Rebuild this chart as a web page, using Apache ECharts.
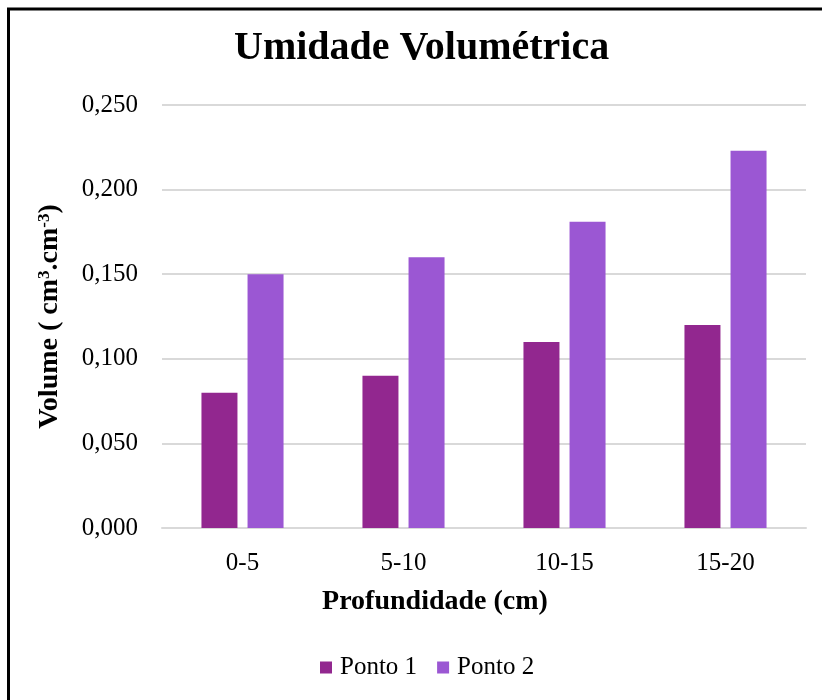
<!DOCTYPE html>
<html><head><meta charset="utf-8">
<script src="https://cdn.jsdelivr.net/npm/echarts@6/dist/echarts.min.js"></script>
<style>html,body{margin:0;padding:0;background:#fff}#c{width:822px;height:700px}</style>
</head><body><div id="c"></div>
<script>
const categories = ['0-5', '5-10', '10-15', '15-20'];
const ponto1 = [0.080, 0.090, 0.110, 0.120];
const ponto2 = [0.150, 0.160, 0.181, 0.223];
const seriesNames = ['Ponto 1', 'Ponto 2'];
const yTicks = [0, 0.05, 0.10, 0.15, 0.20, 0.25];

const FONT = '"Liberation Serif", "DejaVu Serif", serif';
const chart = echarts.init(document.getElementById('c'), null, {renderer: 'canvas'});
chart.setOption({
  backgroundColor: '#fff',
  animation: false,
  title: {
    text: 'Umidade Volumétrica',
    left: 234, top: 29, padding: 0,
    textStyle: {fontFamily: FONT, fontWeight: 'bold', fontSize: 40, color: '#000'}
  },
  graphic: [{
    type: 'rect', silent: true, z: 100,
    shape: {x: 8.5, y: 9, width: 900, height: 800},
    style: {fill: 'none', stroke: '#000', lineWidth: 3}
  }],
  legend: {
    data: seriesNames,
    top: 650, left: 315,
    itemWidth: 12, itemHeight: 12, itemGap: 20,
    icon: 'rect',
    textStyle: {fontFamily: FONT, fontSize: 25, color: '#000', padding: [0,0,0,3]}
  },
  grid: {left: 162, right: 16, top: 105, bottom: 172, containLabel: false},
  xAxis: {
    type: 'category', data: categories,
    name: 'Profundidade (cm)', nameLocation: 'middle', nameGap: 60,
    nameTextStyle: {fontFamily: FONT, fontWeight: 'bold', fontSize: 28, color: '#000', padding: [0, 98, 0, 0]},
    axisLine: {lineStyle: {color: '#d9d9d9', width: 2}},
    axisTick: {show: false},
    axisLabel: {fontFamily: FONT, fontSize: 25, color: '#000', margin: 23}
  },
  yAxis: {
    type: 'value', min: 0, max: 0.25, interval: 0.05,
    name: 'Volume ( cm{s|3}.cm{s|-3})', nameLocation: 'middle', nameGap: 98, nameRotate: 90,
    nameTextStyle: {
      fontFamily: FONT, fontWeight: 'bold', fontSize: 28, color: '#000',
      rich: {s: {fontFamily: FONT, fontWeight: 'bold', fontSize: 17, color: '#000', verticalAlign: 'top', lineHeight: 17}}
    },
    axisLine: {show: false}, axisTick: {show: false},
    splitLine: {lineStyle: {color: '#d9d9d9', width: 2}},
    axisLabel: {
      fontFamily: FONT, fontSize: 25, color: '#000', margin: 24,
      formatter: v => v.toFixed(3).replace('.', ',')
    }
  },
  series: [
    {name: seriesNames[0], type: 'bar', data: ponto1, barWidth: 36, barGap: '28%', itemStyle: {color: '#92278F'}},
    {name: seriesNames[1], type: 'bar', data: ponto2, barWidth: 36, itemStyle: {color: '#9B57D3'}}
  ]
});
</script></body></html>
